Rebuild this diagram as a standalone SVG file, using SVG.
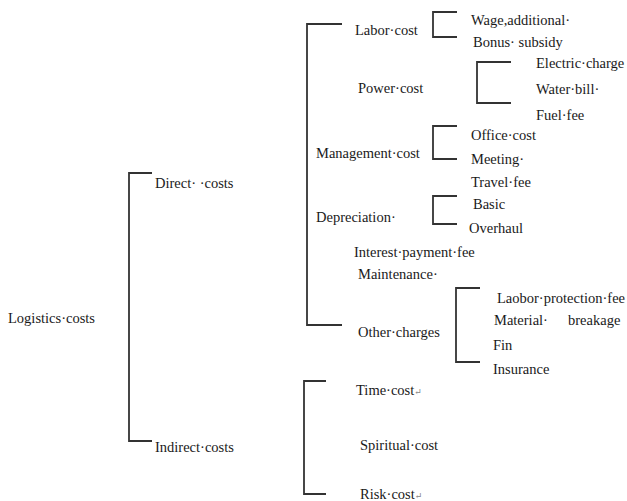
<svg xmlns="http://www.w3.org/2000/svg" width="627" height="501" viewBox="0 0 627 501">
<style>
text{font-family:"Liberation Serif","DejaVu Serif",serif;font-size:14.5px;fill:#1a1a1a}
.br{fill:none;stroke:#333;stroke-width:1.8}
.pm{font-size:9px;fill:#888}
</style>
<rect width="627" height="501" fill="#fff"/>
<g id="connectors">
<path class="br" d="M152,173H129V441H152"/>
<path class="br" d="M342,24H307V325H342"/>
<path class="br" d="M457,12H433V37H457"/>
<path class="br" d="M511,62H477V103H511"/>
<path class="br" d="M457,126H433V159H457"/>
<path class="br" d="M457,196H433V224H457"/>
<path class="br" d="M480,288H456V362H480"/>
<path class="br" d="M326,381H304V494H326"/>
</g>
<g id="root"><text x="8" y="323">Logistics·costs</text></g>
<g id="direct"><text x="155" y="188">Direct·  ·costs</text></g>
<g id="indirect"><text x="155" y="452">Indirect·costs</text></g>
<g id="labor"><text x="355" y="35">Labor·cost</text></g>
<g id="wage"><text x="471" y="25">Wage,additional·</text></g>
<g id="bonus"><text x="473" y="47">Bonus· subsidy</text></g>
<g id="power"><text x="358" y="93">Power·cost</text></g>
<g id="electric"><text x="536" y="68">Electric·charge</text></g>
<g id="water"><text x="536" y="94">Water·bill·</text></g>
<g id="fuel"><text x="536" y="120">Fuel·fee</text></g>
<g id="management"><text x="316" y="158">Management·cost</text></g>
<g id="office"><text x="471" y="140">Office·cost</text></g>
<g id="meeting"><text x="471" y="164">Meeting·</text></g>
<g id="travel"><text x="471" y="187">Travel·fee</text></g>
<g id="depreciation"><text x="316" y="222">Depreciation·</text></g>
<g id="basic"><text x="473" y="209">Basic</text></g>
<g id="overhaul"><text x="469" y="233">Overhaul</text></g>
<g id="interest"><text x="354" y="257">Interest·payment·fee</text></g>
<g id="maintenance"><text x="358" y="279">Maintenance·</text></g>
<g id="other"><text x="358" y="337">Other·charges</text></g>
<g id="laobor"><text x="497" y="303">Laobor·protection·fee</text></g>
<g id="material"><text x="494" y="325">Material·<tspan x="568">breakage</tspan></text></g>
<g id="fin"><text x="493" y="350">Fin</text></g>
<g id="insurance"><text x="493" y="374">Insurance</text></g>
<g id="time"><text x="356" y="395">Time·cost<tspan class="pm">↵</tspan></text></g>
<g id="spiritual"><text x="360" y="450">Spiritual·cost</text></g>
<g id="risk"><text x="360" y="499">Risk·cost<tspan class="pm">↵</tspan></text></g>
</svg>
